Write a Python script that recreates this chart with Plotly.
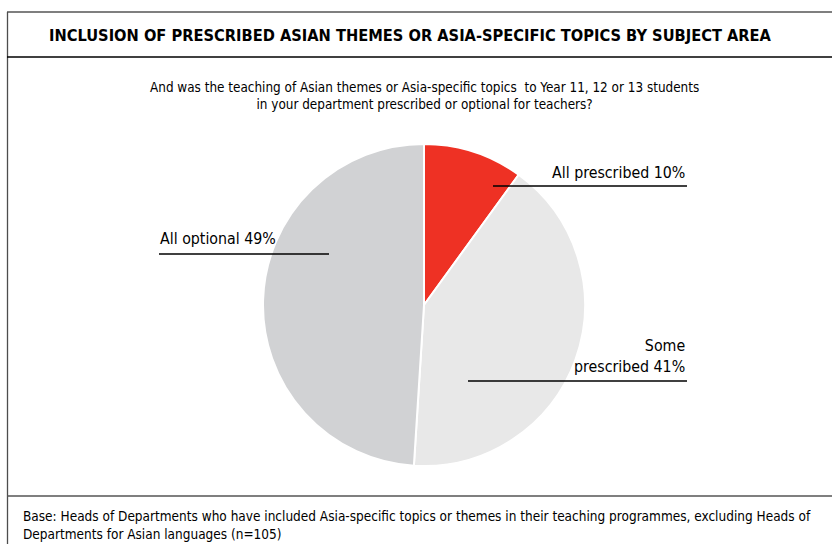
import plotly.graph_objects as go

# Survey responses: how Asian themes / Asia-specific topics are set for teachers
categories = ["All prescribed", "Some prescribed", "All optional"]
shares = [10, 41, 49]
slice_colors = ["#ee3124", "#e8e8e8", "#d1d2d4"]

title_text = "INCLUSION OF PRESCRIBED ASIAN THEMES OR ASIA-SPECIFIC TOPICS BY SUBJECT AREA"
question_text = ("And was the teaching of Asian themes or Asia-specific topics  to Year 11, 12 or 13 students"
                 "<br>in your department prescribed or optional for teachers?")
base_text = ("Base: Heads of Departments who have included Asia-specific topics or themes in their teaching "
             "programmes, excluding Heads of<br>Departments for Asian languages (n=105)")

W, H = 832, 544
BODY_FONT = "DejaVu Sans Condensed, Liberation Sans Narrow, sans-serif"


def px(x):
    return x / W


def py(y):
    return 1 - y / H


fig = go.Figure(go.Pie(
    labels=categories,
    values=shares,
    marker=dict(colors=slice_colors, line=dict(color="white", width=2)),
    sort=False,
    direction="clockwise",
    rotation=0,
    textinfo="none",
    hoverinfo="label+percent",
    domain=dict(x=[px(263), px(585)], y=[py(466), py(144)]),
    showlegend=False,
))

line_black = dict(color="black", width=1.3)
shapes = [
    # outer frame: top rule and left edge
    dict(type="line", x0=px(7), x1=1.01, y0=py(12), y1=py(12), line=dict(color="#7f7f7f", width=2)),
    dict(type="line", x0=px(7.5), x1=px(7.5), y0=py(12), y1=-0.01, line=dict(color="#4d4d4d", width=1.3)),
    # rule under the title
    dict(type="line", x0=px(7), x1=1.01, y0=py(57), y1=py(57), line=dict(color="black", width=1.5)),
    # rule above the base note
    dict(type="line", x0=px(7), x1=1.01, y0=py(496), y1=py(496), line=dict(color="#555555", width=1.5)),
    # label leader lines
    dict(type="line", x0=px(493), x1=px(687), y0=py(186), y1=py(186), line=line_black),
    dict(type="line", x0=px(468), x1=px(687), y0=py(381), y1=py(381), line=line_black),
    dict(type="line", x0=px(159), x1=px(329), y0=py(254), y1=py(254), line=line_black),
]

label_of = {c: f"{c} {v}%" for c, v in zip(categories, shares)}
annotations = [
    dict(text="<b>" + title_text + "</b>", x=px(410), y=py(35), xanchor="center", yanchor="middle",
         font=dict(size=16.3, color="black", family=BODY_FONT)),
    dict(text=question_text, x=px(424), y=py(96), xanchor="center", yanchor="middle",
         font=dict(size=13.4, color="black", family=BODY_FONT)),
    dict(text=label_of["All prescribed"], x=px(687), y=py(172), xanchor="right", yanchor="middle",
         font=dict(size=15.8, color="black", family=BODY_FONT)),
    dict(text=label_of["All optional"], x=px(158), y=py(238), xanchor="left", yanchor="middle",
         font=dict(size=15.8, color="black", family=BODY_FONT)),
    dict(text=label_of["Some prescribed"].replace("Some ", "Some<br>"), x=px(687), y=py(356),
         xanchor="right", yanchor="middle", align="right",
         font=dict(size=15.8, color="black", family=BODY_FONT)),
    dict(text=base_text, x=px(21), y=py(525), xanchor="left", yanchor="middle", align="left",
         font=dict(size=13.5, color="black", family=BODY_FONT)),
]
for a in annotations:
    a.update(xref="paper", yref="paper", showarrow=False)
for s in shapes:
    s.update(xref="paper", yref="paper")

fig.update_layout(
    width=W, height=H,
    margin=dict(l=0, r=0, t=0, b=0),
    paper_bgcolor="white",
    plot_bgcolor="white",
    shapes=shapes,
    annotations=annotations,
)

fig.write_html("out.html")
